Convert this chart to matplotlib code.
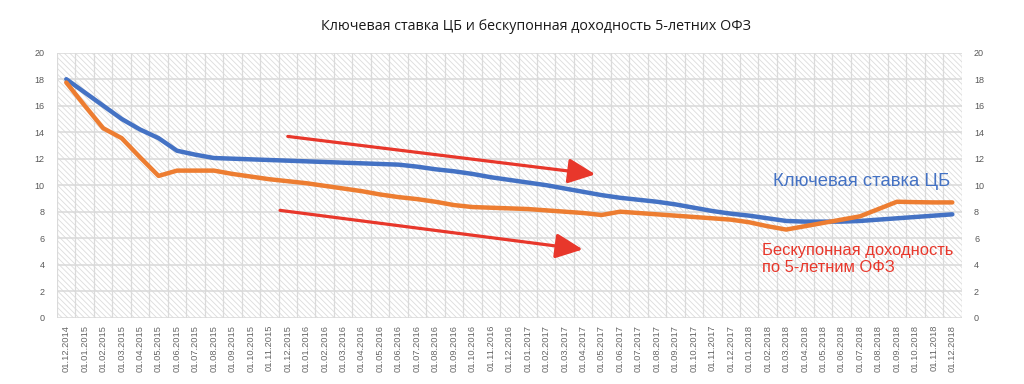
import matplotlib
matplotlib.use("Agg")
import matplotlib.pyplot as plt

plt.rcParams['font.family'] = ['Liberation Sans', 'DejaVu Sans']
plt.rcParams['hatch.linewidth'] = 0.6

# monthly dates 01.12.2014 .. 01.12.2018
dates = ["01.12.2014"]
for y in range(2015, 2019):
    for m in range(1, 13):
        dates.append("01.%02d.%d" % (m, y))

# key rate (blue)
key_rate = [18.0, 17.0, 16.0, 15.0, 14.2, 13.55, 12.6, 12.3, 12.05, 12.0,
            11.95, 11.9, 11.85, 11.8, 11.75, 11.7, 11.65, 11.6, 11.55, 11.4,
            11.2, 11.05, 10.85, 10.6, 10.4, 10.2, 10.0, 9.75, 9.5, 9.25,
            9.05, 8.9, 8.75, 8.55, 8.3, 8.05, 7.85, 7.7, 7.5, 7.3,
            7.25, 7.25, 7.25, 7.3, 7.4, 7.5, 7.6, 7.7, 7.8]

# zero-coupon yield of 5y OFZ (orange)
ofz_5y = [17.75, 16.0, 14.3, 13.55, 12.1, 10.7, 11.1, 11.1, 11.1, 10.85,
          10.65, 10.45, 10.3, 10.15, 9.95, 9.75, 9.55, 9.3, 9.1, 8.95,
          8.75, 8.5, 8.35, 8.3, 8.25, 8.2, 8.1, 8.0, 7.9, 7.75,
          8.0, 7.9, 7.8, 7.7, 7.6, 7.5, 7.4, 7.2, 6.9, 6.65,
          6.9, 7.15, 7.4, 7.65, 8.2, 8.75, 8.72, 8.7, 8.7]

x = list(range(len(dates)))

fig = plt.figure(figsize=(10.24, 3.84), dpi=100)
ax = fig.add_axes([0.0557, 0.1727, 0.8833, 0.6901])

ax.axvspan(-0.5, 48.5, facecolor='white', edgecolor='#dcdcdc',
           hatch='\\\\\\\\\\\\', lw=0, zorder=0)

ax.set_xlim(-0.5, 48.5)
ax.set_ylim(0, 20)
ax.set_yticks(range(0, 21, 2))
for v in range(0, 21, 2):
    ax.axhline(v, color='#d9d9d9', lw=1.1, zorder=1)
for k in range(len(dates) + 1):
    ax.axvline(k - 0.5, color='#dadada', lw=0.9, zorder=1)

ax.plot(x, key_rate, color='#4472C4', lw=3.2, zorder=3, solid_capstyle='round')
ax.plot(x, ofz_5y, color='#ED7D31', lw=3.2, zorder=3, solid_capstyle='round')

ax.set_xticks(x)
ax.set_xticklabels(dates, rotation=90, fontsize=6.7, color='#666666')
ax.tick_params(axis='both', length=0, pad=5)
ax.tick_params(axis='y', labelsize=6.5, labelcolor='#595959', pad=9)
for s in ax.spines.values():
    s.set_visible(False)

ax2 = ax.twinx()
ax2.set_ylim(0, 20)
ax2.set_yticks(range(0, 21, 2))
ax2.tick_params(axis='y', length=0, labelsize=6.5, labelcolor='#595959', pad=9)
for s in ax2.spines.values():
    s.set_visible(False)

# red trend arrows
arrow = dict(arrowstyle='-|>,head_length=1.65,head_width=0.76', color='#E8372B',
             lw=2.3, shrinkA=0, shrinkB=0)
ax.annotate('', xy=(28.66, 10.82), xytext=(12.0, 13.68), arrowprops=arrow, zorder=4)
ax.annotate('', xy=(27.98, 5.15), xytext=(11.58, 8.1), arrowprops=arrow, zorder=4)

ax.text(38.3, 10.3, "Ключевая ставка ЦБ", color='#4472C4', fontsize=13.3,
        va='center', ha='left', zorder=5)
ax.text(37.7, 4.45, "Бескупонная доходность\nпо 5-летним ОФЗ", color='#E8372B',
        fontsize=11.9, va='center', ha='left', linespacing=1.15, zorder=5)

fig.text(0.523, 0.93, "Ключевая ставка ЦБ и бескупонная доходность 5-летних ОФЗ",
         ha='center', va='center', fontsize=10.3, color='#1a1a1a',
         family=['Open Sans', 'DejaVu Sans'])

fig.savefig("out.png", dpi=100, facecolor='white')
